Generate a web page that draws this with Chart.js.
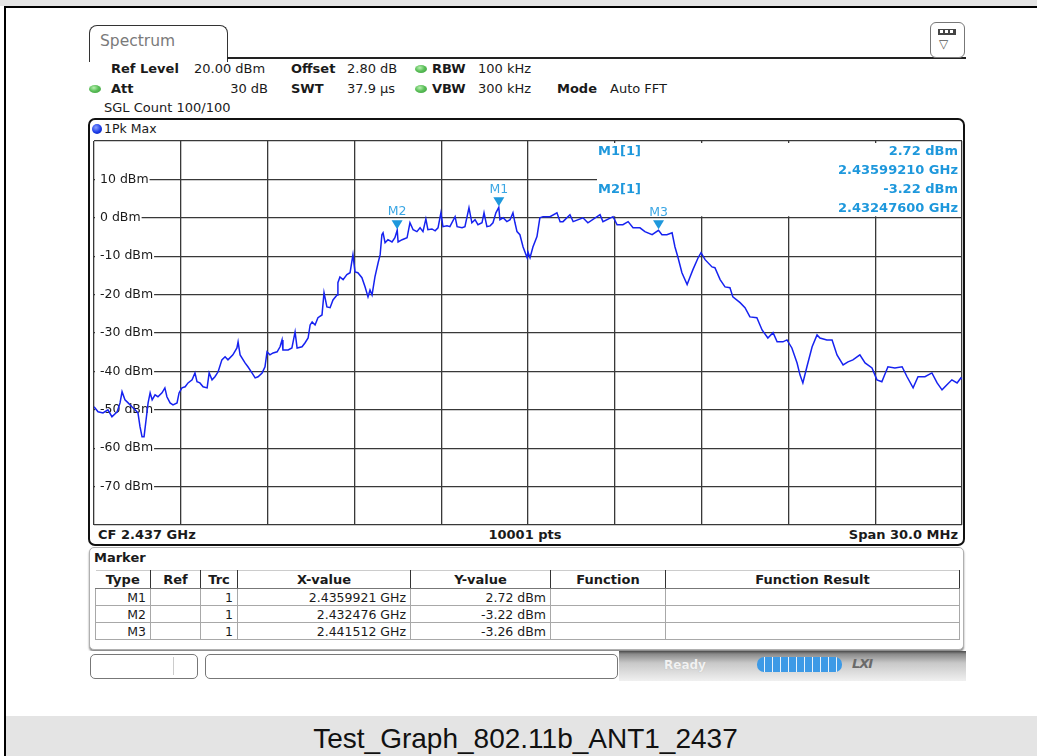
<!DOCTYPE html>
<html>
<head>
<meta charset="utf-8">
<script src="https://cdn.jsdelivr.net/npm/chart.js@4.4.1/dist/chart.umd.min.js"></script>
<style>
  html,body{margin:0;padding:0;}
  body{width:1037px;height:756px;position:relative;overflow:hidden;background:#fff;font-family:'DejaVu Sans',Verdana,sans-serif;color:#1a1a1a;}
  .a{position:absolute;white-space:nowrap;}
  .t{font-size:13px;line-height:16px;}
  .b{font-weight:bold;}
  .dot{position:absolute;width:12px;height:8px;border-radius:50%;background:radial-gradient(ellipse at 40% 35%,#b8f0b0 0%,#5cc05a 45%,#3a9a3a 100%);}
  .mi{position:absolute;font-size:13px;font-weight:bold;color:#1e98dc;line-height:16px;white-space:nowrap;}
  table.mt{position:absolute;left:95px;top:570px;width:864px;border-collapse:collapse;table-layout:fixed;font-size:12.5px;}
  table.mt th{height:17px;padding:0;font-weight:bold;font-size:13px;text-align:center;border-right:1.5px solid #333;border-bottom:1px solid #777;border-top:1px solid #ccc;background:#fff;}
  table.mt td{height:16px;padding:0 4px 0 0;text-align:right;border:1px solid #a8a8a8;line-height:15px;}
</style>
</head>
<body>
<!-- page frame -->
<div class="a" style="left:0;top:0;width:1037px;height:6px;background:#e4e4e4;"></div>
<div class="a" style="left:4px;top:6px;width:1033px;height:2px;background:#000;"></div>
<div class="a" style="left:4px;top:6px;width:2px;height:750px;background:#000;"></div>
<div class="a" style="left:6px;top:716px;width:1031px;height:40px;background:#e4e4e4;"></div>
<div class="a" style="left:10px;top:722px;width:1031px;text-align:center;font-family:'Liberation Sans',Arial,sans-serif;font-size:28px;line-height:34px;color:#111;">Test_Graph_802.11b_ANT1_2437</div>

<!-- tab -->
<div class="a" style="left:89px;top:25px;width:137px;height:36px;border:1.5px solid #333;border-bottom:none;border-radius:8px 8px 0 0;background:#fff;"></div>
<div class="a" style="left:100px;top:32px;font-size:15.5px;color:#7a7a7a;">Spectrum</div>
<div class="a" style="left:227px;top:57px;width:739px;height:1.5px;background:#222;"></div>
<div class="a" style="left:930px;top:22px;width:33px;height:34px;border:1.5px solid #777;border-radius:6px;background:#fff;"></div>
<div class="a" style="left:938px;top:29px;width:18px;height:6px;background:#444;"></div>
<div class="a" style="left:940px;top:30px;width:3px;height:3px;background:#fff;"></div>
<div class="a" style="left:945px;top:30px;width:3px;height:3px;background:#fff;"></div>
<div class="a" style="left:950px;top:30px;width:3px;height:3px;background:#fff;"></div>
<div class="a" style="left:939px;top:37px;font-size:12px;color:#555;line-height:14px;">&#9661;</div>

<!-- header -->
<div class="a t b" style="left:111px;top:61px;">Ref Level</div>
<div class="a t" style="left:194px;top:61px;">20.00 dBm</div>
<div class="a t b" style="left:291px;top:61px;">Offset</div>
<div class="a t" style="left:347px;top:61px;">2.80 dB</div>
<div class="dot" style="left:415px;top:65px;"></div>
<div class="a t b" style="left:432px;top:61px;">RBW</div>
<div class="a t" style="left:478px;top:61px;">100 kHz</div>
<div class="dot" style="left:89px;top:85px;"></div>
<div class="a t b" style="left:111px;top:81px;">Att</div>
<div class="a t" style="left:228px;top:81px;width:40px;text-align:right;">30 dB</div>
<div class="a t b" style="left:291px;top:81px;">SWT</div>
<div class="a t" style="left:347px;top:81px;">37.9 µs</div>
<div class="dot" style="left:415px;top:85px;"></div>
<div class="a t b" style="left:432px;top:81px;">VBW</div>
<div class="a t" style="left:478px;top:81px;">300 kHz</div>
<div class="a t b" style="left:557px;top:81px;">Mode</div>
<div class="a t" style="left:610px;top:81px;">Auto FFT</div>
<div class="a t" style="left:104px;top:100px;">SGL Count 100/100</div>

<!-- plot frame -->
<div class="a" style="left:88px;top:118px;width:873px;height:424px;border:2.5px solid #111;border-radius:7px;"></div>
<div class="a" style="left:92px;top:124px;width:10px;height:10px;border-radius:50%;background:radial-gradient(circle at 40% 35%,#8aa0ff 0%,#1a3ae8 55%,#0a1f9a 100%);"></div>
<div class="a" style="left:104px;top:121px;font-size:12.5px;line-height:16px;">1Pk Max</div>
<div class="a b" style="left:98px;top:527px;font-size:13px;line-height:16px;">CF 2.437 GHz</div>
<div class="a b" style="left:425px;top:527px;width:200px;text-align:center;font-size:13px;line-height:16px;">10001 pts</div>
<div class="a b" style="left:758px;top:527px;width:200px;text-align:right;font-size:13px;line-height:16px;">Span 30.0 MHz</div>

<canvas id="c" width="880" height="395" style="position:absolute;left:89px;top:136px;"></canvas>

<!-- marker info text -->
<div class="mi" style="left:598px;top:143px;">M1[1]</div>
<div class="mi" style="left:598px;top:181px;">M2[1]</div>
<div class="mi" style="left:700px;top:143px;width:258px;text-align:right;">2.72 dBm</div>
<div class="mi" style="left:700px;top:162px;width:258px;text-align:right;">2.43599210 GHz</div>
<div class="mi" style="left:700px;top:181px;width:258px;text-align:right;">-3.22 dBm</div>
<div class="mi" style="left:700px;top:200px;width:258px;text-align:right;">2.43247600 GHz</div>

<!-- marker table -->
<div class="a" style="left:89px;top:547px;width:873px;height:101px;border:1.5px solid #b0b0b0;border-radius:5px;box-shadow:0 2px 2px #888;background:#fff;"></div>
<div class="a b" style="left:94px;top:550px;font-size:13px;line-height:16px;">Marker</div>
<table class="mt">
  <colgroup><col style="width:55px"><col style="width:50px"><col style="width:37px"><col style="width:173px"><col style="width:140px"><col style="width:115px"><col style="width:294px"></colgroup>
  <tr><th>Type</th><th>Ref</th><th>Trc</th><th>X-value</th><th>Y-value</th><th>Function</th><th>Function Result</th></tr>
  <tr><td>M1</td><td></td><td>1</td><td>2.4359921 GHz</td><td>2.72 dBm</td><td></td><td></td></tr>
  <tr><td>M2</td><td></td><td>1</td><td>2.432476 GHz</td><td>-3.22 dBm</td><td></td><td></td></tr>
  <tr><td>M3</td><td></td><td>1</td><td>2.441512 GHz</td><td>-3.26 dBm</td><td></td><td></td></tr>
</table>

<!-- status bar -->
<div class="a" style="left:89px;top:651px;width:877px;height:30px;background:linear-gradient(to bottom,#4a4a4a 0px,#8a8a8a 3px,#c8c8c8 12px,#f0f0f0 30px);"></div>
<div class="a" style="left:89px;top:651px;width:530px;height:30px;background:#fff;"></div>
<div class="a" style="left:90px;top:654px;width:106px;height:23px;border:1px solid #777;border-radius:5px;background:#fff;"></div>
<div class="a" style="left:173px;top:657px;width:1px;height:18px;background:#ccc;"></div>
<div class="a" style="left:205px;top:654px;width:411px;height:23px;border:1px solid #777;border-radius:5px;background:#fff;"></div>
<div class="a b" style="left:664px;top:658px;font-size:12px;color:#f2f2f2;text-shadow:0 0 1px #aaa;">Ready</div>
<div class="a" style="left:757px;top:657px;width:85px;height:15px;border-radius:7px;background:repeating-linear-gradient(to right,#3d9ae6 0px,#3d9ae6 7px,#e8f3fc 7px,#e8f3fc 8px);"></div>
<div class="a b" style="left:852px;top:656px;font-size:13px;font-style:italic;color:#6a6a6a;letter-spacing:-1px;">LXI</div>

<script>
// ---- data ----
const freqMHz = [
 2422.00,2422.14,2422.31,2422.48,2422.62,2422.80,2422.90,2422.97,2423.07,2423.18,
 2423.31,2423.42,2423.52,2423.59,2423.66,2423.73,2423.80,2423.87,2423.94,2424.01,
 2424.11,2424.21,2424.35,2424.45,2424.52,2424.63,2424.73,2424.87,2424.94,2425.04,
 2425.15,2425.25,2425.39,2425.49,2425.56,2425.66,2425.77,2425.91,2425.98,2426.08,
 2426.18,2426.29,2426.42,2426.53,2426.63,2426.80,2426.94,2426.98,2427.05,2427.22,
 2427.32,2427.46,2427.57,2427.67,2427.81,2427.91,2427.98,2428.08,2428.19,2428.33,
 2428.43,2428.50,2428.53,2428.71,2428.84,2428.95,2429.02,2429.19,2429.29,2429.40,
 2429.47,2429.54,2429.64,2429.74,2429.88,2429.95,2430.05,2430.16,2430.26,2430.40,
 2430.43,2430.50,2430.61,2430.74,2430.85,2430.95,2431.02,2431.12,2431.26,2431.37,
 2431.47,2431.54,2431.61,2431.71,2431.82,2431.89,2431.95,2431.99,2432.06,2432.16,
 2432.30,2432.40,2432.48,2432.51,2432.65,2432.82,2432.92,2433.03,2433.16,2433.27,
 2433.37,2433.47,2433.54,2433.68,2433.79,2433.89,2433.99,2434.06,2434.20,2434.30,
 2434.48,2434.55,2434.72,2434.82,2434.96,2435.06,2435.17,2435.27,2435.41,2435.48,
 2435.58,2435.69,2435.79,2435.89,2435.99,2436.03,2436.14,2436.27,2436.38,2436.48,
 2436.55,2436.62,2436.72,2436.83,2436.97,2437.00,2437.07,2437.17,2437.31,2437.41,
 2437.52,2437.76,2438.00,2438.11,2438.21,2438.45,2438.56,2438.90,2439.07,2439.49,
 2439.59,2439.94,2440.08,2440.28,2440.46,2440.63,2440.87,2441.04,2441.29,2441.51,
 2441.63,2441.80,2441.98,2442.08,2442.18,2442.32,2442.50,2442.60,2442.70,2442.88,
 2442.98,2443.12,2443.36,2443.46,2443.64,2443.81,2443.98,2444.08,2444.33,2444.50,
 2444.67,2444.91,2445.09,2445.29,2445.47,2445.61,2445.81,2445.95,2446.12,2446.30,
 2446.40,2446.50,2446.64,2446.82,2446.99,2447.09,2447.33,2447.51,2447.68,2447.89,
 2448.06,2448.23,2448.47,2448.65,2448.89,2449.06,2449.23,2449.44,2449.68,2449.93,
 2450.10,2450.31,2450.48,2450.72,2450.96,2451.14,2451.31,2451.48,2451.65,2451.83,
 2451.96,2452.00
];
const levelDbm = [
 -49.2,-50.5,-50.8,-50.0,-51.8,-50.5,-48.2,-45.3,-47.4,-48.2,
 -49.2,-50.0,-50.8,-54.4,-57.0,-57.0,-52.6,-48.2,-45.6,-47.4,
 -46.1,-46.6,-45.6,-44.3,-46.6,-48.2,-48.7,-48.2,-45.6,-44.3,
 -44.0,-43.0,-42.2,-40.4,-42.7,-43.0,-44.0,-44.3,-40.4,-42.2,
 -41.4,-40.1,-37.0,-36.2,-37.0,-35.7,-33.9,-32.3,-35.7,-37.8,
 -38.8,-40.4,-41.7,-41.4,-40.4,-38.8,-34.9,-35.7,-35.2,-34.9,
 -33.6,-31.8,-34.4,-34.4,-33.9,-29.7,-33.9,-33.6,-32.6,-31.3,
 -27.9,-27.1,-27.9,-26.0,-25.3,-19.5,-23.2,-23.4,-21.4,-20.1,
 -16.9,-15.4,-16.1,-14.8,-14.3,-9.6,-14.1,-14.3,-15.6,-18.0,
 -20.6,-18.8,-20.1,-15.4,-11.7,-9.6,-4.4,-3.9,-6.5,-5.7,
 -6.3,-5.2,-3.22,-6.3,-5.7,-5.2,-1.3,-3.1,-3.6,-2.6,
 -3.6,-0.3,-3.1,-2.9,-3.4,-2.6,1.3,-2.3,-2.1,-2.3,
 0.3,-2.3,-2.6,-2.3,2.6,-1.3,-0.5,-1.8,-1.3,1.3,
 -2.3,-2.1,-1.3,1.3,2.72,-0.5,0.0,-1.0,-0.5,1.3,
 -1.3,-3.6,-4.4,-7.6,-10.4,-8.9,-10.4,-7.6,-4.9,0.0,
 0.3,0.3,1.3,-1.0,-1.0,0.8,-1.0,0.0,-1.3,0.8,
 -1.0,0.3,-1.8,-1.8,-1.0,-2.6,-2.6,-3.6,-4.4,-3.26,
 -4.4,-4.4,-3.9,-7.6,-10.2,-14.3,-17.4,-15.4,-13.5,-10.4,
 -9.1,-10.9,-12.8,-13.0,-16.1,-18.0,-18.2,-20.6,-22.1,-23.4,
 -25.8,-26.0,-29.2,-31.3,-29.9,-32.3,-32.3,-31.8,-33.9,-37.8,
 -40.9,-43.0,-38.8,-33.6,-30.5,-31.3,-31.8,-31.8,-35.7,-38.3,
 -37.5,-37.0,-35.7,-37.8,-39.1,-42.2,-42.7,-38.8,-39.1,-38.8,
 -41.4,-44.3,-41.4,-41.4,-40.4,-43.0,-44.8,-43.5,-42.2,-43.0,
 -41.7,-42.0
];
const yTickValues = [10, 0, -10, -20, -30, -40, -50, -60, -70];
const yTickLabels = ['10 dBm','0 dBm','-10 dBm','-20 dBm','-30 dBm','-40 dBm','-50 dBm','-60 dBm','-70 dBm'];
const markerNames = ['M1','M2','M3'];
const markerFreqMHz = [2435.9921, 2432.476, 2441.512];
const markerDbm = [2.72, -3.22, -3.26];

// ---- plugins ----
const overlayPlugin = {
  id: 'overlay',
  beforeDatasetsDraw(chart) {
    const {ctx, chartArea, scales} = chart;
    ctx.save();
    // marker readout panel (hides the grid in the upper-right corner)
    const bx = scales.x.getPixelForValue(2437) + 69;
    const top = scales.y.getPixelForValue(20) + 2;
    const bottom = scales.y.getPixelForValue(0) - 1.5;
    ctx.fillStyle = '#fff';
    ctx.fillRect(bx, top, chartArea.right - bx - 1, bottom - top);
    // y labels with a blank behind them
    ctx.font = '12.5px "DejaVu Sans", Verdana, sans-serif';
    ctx.textBaseline = 'middle';
    yTickValues.forEach((v, i) => {
      const y = scales.y.getPixelForValue(v);
      const txt = yTickLabels[i];
      const w = ctx.measureText(txt).width;
      ctx.fillStyle = '#fff';
      ctx.fillRect(chartArea.left + 1, y - 7, w + 6, 14);
      ctx.fillStyle = '#1a1a1a';
      ctx.fillText(txt, chartArea.left + 6, y);
    });
    ctx.restore();
  }
};
const markerPlugin = {
  id: 'markers',
  afterDatasetsDraw(chart) {
    const {ctx, scales} = chart;
    ctx.save();
    markerNames.forEach((n, i) => {
      const px = scales.x.getPixelForValue(markerFreqMHz[i]);
      const py = scales.y.getPixelForValue(markerDbm[i]);
      ctx.fillStyle = '#1e98dc';
      ctx.beginPath();
      ctx.moveTo(px, py - 1);
      ctx.lineTo(px - 5.5, py - 10);
      ctx.lineTo(px + 5.5, py - 10);
      ctx.closePath();
      ctx.fill();
      ctx.fillStyle = '#3aa6e4';
      ctx.font = '12.5px "DejaVu Sans", Verdana, sans-serif';
      ctx.textAlign = 'center';
      ctx.textBaseline = 'middle';
      ctx.fillText(n, px, py - 18);
    });
    ctx.restore();
  }
};

new Chart(document.getElementById('c'), {
  type: 'line',
  data: {
    datasets: [{
      data: freqMHz.map((f, i) => ({x: f, y: levelDbm[i]})),
      borderColor: 'rgb(22,34,240)',
      borderWidth: 1.5,
      pointRadius: 0,
      tension: 0,
      fill: false
    }]
  },
  options: {
    responsive: false,
    animation: false,
    layout: {padding: {left: 5, top: 5, right: 7, bottom: 6}},
    plugins: {legend: {display: false}, tooltip: {enabled: false}},
    scales: {
      x: {type: 'linear', min: 2422, max: 2452,
          ticks: {display: false, stepSize: 3},
          grid: {color: '#383838', lineWidth: 1.3, drawTicks: false},
          border: {display: false}},
      y: {type: 'linear', min: -80, max: 20,
          ticks: {display: false, stepSize: 10},
          grid: {color: '#383838', lineWidth: 1.3, drawTicks: false},
          border: {display: false}}
    }
  },
  plugins: [overlayPlugin, markerPlugin]
});
</script>
</body>
</html>
